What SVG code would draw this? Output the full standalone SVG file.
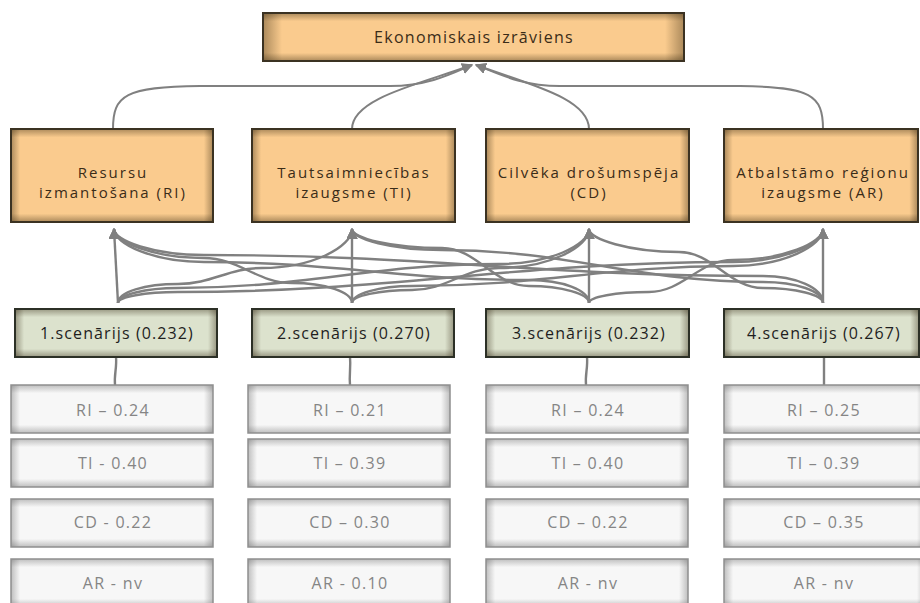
<svg xmlns="http://www.w3.org/2000/svg" width="920" height="603" viewBox="0 0 920 603">
<defs>
<style>
text{font-family:"Open Sans","DejaVu Sans",sans-serif;text-anchor:middle;dominant-baseline:central}
.or{fill:#FACB8E}
.gr{fill:#DCE2CD}
.dt{fill:#F7F7F7}
.bo{fill:none;stroke:#3b3222;stroke-width:2}
.bg{fill:none;stroke:#2c3026;stroke-width:2}
.bd{fill:none;stroke:#8f8f8f;stroke-width:1.5}
.h{fill:url(#gh)}
.v{fill:url(#gv)}
.v2{fill:url(#gv2)}
.hd{fill:url(#ghd)}
.vd{fill:url(#gvd)}
.to{fill:#3a2c18;font-size:16px;letter-spacing:1.3px}
.tm{fill:#3a2c18;font-size:15px;letter-spacing:2px}
.ts{fill:#1e1e1e;font-size:16px;letter-spacing:1.1px}
.td{fill:#858585;font-size:16px;letter-spacing:1.3px}
.c{fill:none;stroke:#808080;stroke-width:2.4}
.ct{fill:none;stroke:#808080;stroke-width:2}
</style>
<linearGradient id="gh" x1="0" y1="0" x2="1" y2="0">
<stop offset="0" stop-color="#2a1e08" stop-opacity="0.38"/><stop offset="0.045" stop-color="#2a1e08" stop-opacity="0"/>
<stop offset="0.955" stop-color="#2a1e08" stop-opacity="0"/><stop offset="1" stop-color="#2a1e08" stop-opacity="0.38"/>
</linearGradient>
<linearGradient id="gv" x1="0" y1="0" x2="0" y2="1">
<stop offset="0" stop-color="#2a1e08" stop-opacity="0.38"/><stop offset="0.17" stop-color="#2a1e08" stop-opacity="0"/>
<stop offset="0.83" stop-color="#2a1e08" stop-opacity="0"/><stop offset="1" stop-color="#2a1e08" stop-opacity="0.38"/>
</linearGradient>
<linearGradient id="gv2" x1="0" y1="0" x2="0" y2="1">
<stop offset="0" stop-color="#2a1e08" stop-opacity="0.38"/><stop offset="0.09" stop-color="#2a1e08" stop-opacity="0"/>
<stop offset="0.91" stop-color="#2a1e08" stop-opacity="0"/><stop offset="1" stop-color="#2a1e08" stop-opacity="0.38"/>
</linearGradient>
<linearGradient id="ghd" x1="0" y1="0" x2="1" y2="0">
<stop offset="0" stop-color="#555" stop-opacity="0.35"/><stop offset="0.045" stop-color="#555" stop-opacity="0"/>
<stop offset="0.955" stop-color="#555" stop-opacity="0"/><stop offset="1" stop-color="#555" stop-opacity="0.35"/>
</linearGradient>
<linearGradient id="gvd" x1="0" y1="0" x2="0" y2="1">
<stop offset="0" stop-color="#555" stop-opacity="0.35"/><stop offset="0.17" stop-color="#555" stop-opacity="0"/>
<stop offset="0.83" stop-color="#555" stop-opacity="0"/><stop offset="1" stop-color="#555" stop-opacity="0.35"/>
</linearGradient>
<marker id="ar" viewBox="0 0 10 10" refX="9" refY="5" markerWidth="11" markerHeight="11" markerUnits="userSpaceOnUse" orient="auto">
<path d="M0,0 L10,5 L0,10 z" fill="#808080"/>
</marker>
</defs>
<rect width="920" height="603" fill="#fff"/>

<g id="connectors">
<path class="ct" d="M113,129 C113,95 125,87 200,86 L390,86 C430,86 455,72 472,65" marker-end="url(#ar)"/>
<path class="ct" d="M352,129 C352,98 420,84 472,65" marker-end="url(#ar)"/>
<path class="ct" d="M589,129 C589,98 528,84 476,65" marker-end="url(#ar)"/>
<path class="ct" d="M823,129 C823,95 811,87 740,86 L560,86 C520,86 495,72 476,65" marker-end="url(#ar)"/>

<path class="c" d="M118,303 L114,229" marker-end="url(#ar)"/>
<path class="c" d="M352,303 L352,229" marker-end="url(#ar)"/>
<path class="c" d="M589,303 L589,229" marker-end="url(#ar)"/>
<path class="c" d="M823,303 L823,229" marker-end="url(#ar)"/>

<path class="c" d="M118,303 C118,292 145,284 178,284 C212,284 228,268 262,268 C312,268 352,247 352,229" marker-end="url(#ar)"/>
<path class="c" d="M118,303 C118,295 145,288 178,288 C306,288 371,264 499,264 C549,264 589,245 589,229" marker-end="url(#ar)"/>
<path class="c" d="M118,303 C118,297 145,292 178,292 C400,292 511,262 733,262 C783,262 823,244 823,229" marker-end="url(#ar)"/>
<path class="c" d="M352,303 C352,292 325,283 292,283 C257,283 239,258 204,258 C154,258 114,242 114,229" marker-end="url(#ar)"/>
<path class="c" d="M352,303 C352,296 379,290 412,290 C447,290 464,268 499,268 C549,268 589,247 589,229" marker-end="url(#ar)"/>
<path class="c" d="M352,303 C352,294 379,286 412,286 C540,286 605,266 733,266 C783,266 823,246 823,229" marker-end="url(#ar)"/>
<path class="c" d="M589,303 C589,290 562,280 529,280 C399,280 334,262 204,262 C154,262 114,244 114,229" marker-end="url(#ar)"/>
<path class="c" d="M589,303 C589,294 562,286 529,286 C494,286 477,248 442,248 C392,248 352,238 352,229" marker-end="url(#ar)"/>
<path class="c" d="M589,303 C589,297 616,292 649,292 C683,292 699,260 733,260 C783,260 823,243 823,229" marker-end="url(#ar)"/>
<path class="c" d="M823,303 C823,288 796,276 763,276 C539,276 428,255 204,255 C154,255 114,241 114,229" marker-end="url(#ar)"/>
<path class="c" d="M823,303 C823,291 796,282 763,282 C635,282 570,250 442,250 C392,250 352,239 352,229" marker-end="url(#ar)"/>
<path class="c" d="M823,303 C823,295 796,288 763,288 C729,288 713,252 679,252 C629,252 589,239 589,229" marker-end="url(#ar)"/>

<path class="c" d="M116,357 C117,368 114,374 115,385"/>
<path class="c" d="M350,357 C351,368 349,374 350,385"/>
<path class="c" d="M587,357 C588,368 585,374 586,385"/>
<path class="c" d="M824,357 L824,385"/>
</g>

<g id="n-top"><rect class="or" x="263" y="13" width="421" height="48"/><rect class="h" x="263" y="13" width="421" height="48"/><rect class="v" x="263" y="13" width="421" height="48"/><rect class="bo" x="263" y="13" width="421" height="48"/><text class="to" x="474" y="37">Ekonomiskais izrāviens</text></g>

<g id="n-ri"><rect class="or" x="11" y="129" width="202" height="93"/><rect class="h" x="11" y="129" width="202" height="93"/><rect class="v2" x="11" y="129" width="202" height="93"/><rect class="bo" x="11" y="129" width="202" height="93"/><text class="tm" x="113" y="172">Resursu</text><text class="tm" x="113" y="192">izmantošana (RI)</text></g>
<g id="n-ti"><rect class="or" x="252" y="129" width="203" height="93"/><rect class="h" x="252" y="129" width="203" height="93"/><rect class="v2" x="252" y="129" width="203" height="93"/><rect class="bo" x="252" y="129" width="203" height="93"/><text class="tm" x="354" y="172">Tautsaimniecības</text><text class="tm" x="354" y="192">izaugsme (TI)</text></g>
<g id="n-cd"><rect class="or" x="486" y="129" width="203" height="93"/><rect class="h" x="486" y="129" width="203" height="93"/><rect class="v2" x="486" y="129" width="203" height="93"/><rect class="bo" x="486" y="129" width="203" height="93"/><text class="tm" x="589" y="172">Cilvēka drošumspēja</text><text class="tm" x="589" y="192">(CD)</text></g>
<g id="n-ar"><rect class="or" x="724" y="129" width="194" height="93"/><rect class="h" x="724" y="129" width="194" height="93"/><rect class="v2" x="724" y="129" width="194" height="93"/><rect class="bo" x="724" y="129" width="194" height="93"/><text class="tm" x="823" y="172">Atbalstāmo reģionu</text><text class="tm" x="823" y="192">izaugsme (AR)</text></g>

<g id="s1"><rect class="gr" x="15" y="309" width="202" height="48"/><rect class="h" x="15" y="309" width="202" height="48"/><rect class="v" x="15" y="309" width="202" height="48"/><rect class="bg" x="15" y="309" width="202" height="48"/><text class="ts" x="117" y="333">1.scenārijs (0.232)</text></g>
<g id="s2"><rect class="gr" x="252" y="309" width="202" height="48"/><rect class="h" x="252" y="309" width="202" height="48"/><rect class="v" x="252" y="309" width="202" height="48"/><rect class="bg" x="252" y="309" width="202" height="48"/><text class="ts" x="354" y="333">2.scenārijs  (0.270)</text></g>
<g id="s3"><rect class="gr" x="486" y="309" width="203" height="48"/><rect class="h" x="486" y="309" width="203" height="48"/><rect class="v" x="486" y="309" width="203" height="48"/><rect class="bg" x="486" y="309" width="203" height="48"/><text class="ts" x="589" y="333">3.scenārijs (0.232)</text></g>
<g id="s4"><rect class="gr" x="724" y="309" width="195" height="48"/><rect class="h" x="724" y="309" width="195" height="48"/><rect class="v" x="724" y="309" width="195" height="48"/><rect class="bg" x="724" y="309" width="195" height="48"/><text class="ts" x="824" y="333">4.scenārijs (0.267)</text></g>

<g id="d1-ri"><rect class="dt" x="11" y="385" width="202" height="48"/><rect class="hd" x="11" y="385" width="202" height="48"/><rect class="vd" x="11" y="385" width="202" height="48"/><rect class="bd" x="11" y="385" width="202" height="48"/><text class="td" x="113" y="410">RI – 0.24</text></g>
<g id="d1-ti"><rect class="dt" x="11" y="439" width="202" height="48"/><rect class="hd" x="11" y="439" width="202" height="48"/><rect class="vd" x="11" y="439" width="202" height="48"/><rect class="bd" x="11" y="439" width="202" height="48"/><text class="td" x="113" y="463">TI - 0.40</text></g>
<g id="d1-cd"><rect class="dt" x="11" y="499" width="202" height="48"/><rect class="hd" x="11" y="499" width="202" height="48"/><rect class="vd" x="11" y="499" width="202" height="48"/><rect class="bd" x="11" y="499" width="202" height="48"/><text class="td" x="113" y="522">CD - 0.22</text></g>
<g id="d1-ar"><rect class="dt" x="11" y="559" width="202" height="48"/><rect class="hd" x="11" y="559" width="202" height="48"/><rect class="vd" x="11" y="559" width="202" height="48"/><rect class="bd" x="11" y="559" width="202" height="48"/><text class="td" x="113" y="583">AR - nv</text></g>

<g id="d2-ri"><rect class="dt" x="248" y="385" width="202" height="48"/><rect class="hd" x="248" y="385" width="202" height="48"/><rect class="vd" x="248" y="385" width="202" height="48"/><rect class="bd" x="248" y="385" width="202" height="48"/><text class="td" x="350" y="410">RI – 0.21</text></g>
<g id="d2-ti"><rect class="dt" x="248" y="439" width="202" height="48"/><rect class="hd" x="248" y="439" width="202" height="48"/><rect class="vd" x="248" y="439" width="202" height="48"/><rect class="bd" x="248" y="439" width="202" height="48"/><text class="td" x="350" y="463">TI – 0.39</text></g>
<g id="d2-cd"><rect class="dt" x="248" y="499" width="202" height="48"/><rect class="hd" x="248" y="499" width="202" height="48"/><rect class="vd" x="248" y="499" width="202" height="48"/><rect class="bd" x="248" y="499" width="202" height="48"/><text class="td" x="350" y="522">CD – 0.30</text></g>
<g id="d2-ar"><rect class="dt" x="248" y="559" width="202" height="48"/><rect class="hd" x="248" y="559" width="202" height="48"/><rect class="vd" x="248" y="559" width="202" height="48"/><rect class="bd" x="248" y="559" width="202" height="48"/><text class="td" x="350" y="583">AR - 0.10</text></g>

<g id="d3-ri"><rect class="dt" x="486" y="385" width="202" height="48"/><rect class="hd" x="486" y="385" width="202" height="48"/><rect class="vd" x="486" y="385" width="202" height="48"/><rect class="bd" x="486" y="385" width="202" height="48"/><text class="td" x="588" y="410">RI – 0.24</text></g>
<g id="d3-ti"><rect class="dt" x="486" y="439" width="202" height="48"/><rect class="hd" x="486" y="439" width="202" height="48"/><rect class="vd" x="486" y="439" width="202" height="48"/><rect class="bd" x="486" y="439" width="202" height="48"/><text class="td" x="588" y="463">TI – 0.40</text></g>
<g id="d3-cd"><rect class="dt" x="486" y="499" width="202" height="48"/><rect class="hd" x="486" y="499" width="202" height="48"/><rect class="vd" x="486" y="499" width="202" height="48"/><rect class="bd" x="486" y="499" width="202" height="48"/><text class="td" x="588" y="522">CD – 0.22</text></g>
<g id="d3-ar"><rect class="dt" x="486" y="559" width="202" height="48"/><rect class="hd" x="486" y="559" width="202" height="48"/><rect class="vd" x="486" y="559" width="202" height="48"/><rect class="bd" x="486" y="559" width="202" height="48"/><text class="td" x="588" y="583">AR - nv</text></g>

<g id="d4-ri"><rect class="dt" x="724" y="385" width="202" height="48"/><rect class="hd" x="724" y="385" width="202" height="48"/><rect class="vd" x="724" y="385" width="202" height="48"/><rect class="bd" x="724" y="385" width="202" height="48"/><text class="td" x="824" y="410">RI – 0.25</text></g>
<g id="d4-ti"><rect class="dt" x="724" y="439" width="202" height="48"/><rect class="hd" x="724" y="439" width="202" height="48"/><rect class="vd" x="724" y="439" width="202" height="48"/><rect class="bd" x="724" y="439" width="202" height="48"/><text class="td" x="824" y="463">TI – 0.39</text></g>
<g id="d4-cd"><rect class="dt" x="724" y="499" width="202" height="48"/><rect class="hd" x="724" y="499" width="202" height="48"/><rect class="vd" x="724" y="499" width="202" height="48"/><rect class="bd" x="724" y="499" width="202" height="48"/><text class="td" x="824" y="522">CD – 0.35</text></g>
<g id="d4-ar"><rect class="dt" x="724" y="559" width="202" height="48"/><rect class="hd" x="724" y="559" width="202" height="48"/><rect class="vd" x="724" y="559" width="202" height="48"/><rect class="bd" x="724" y="559" width="202" height="48"/><text class="td" x="824" y="583">AR - nv</text></g>
</svg>
